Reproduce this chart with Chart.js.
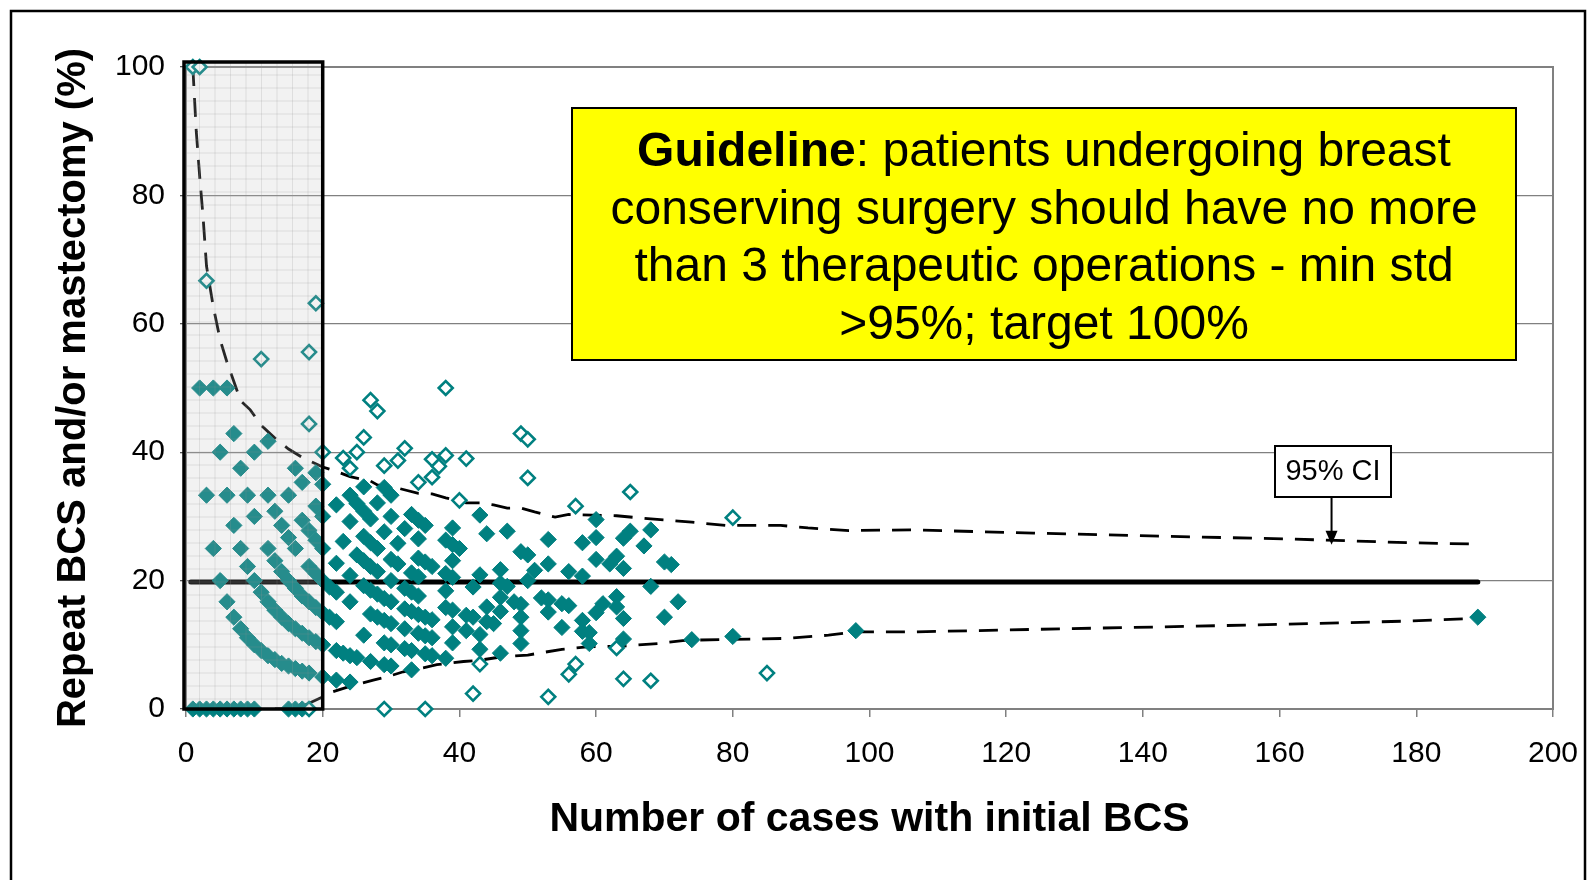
<!DOCTYPE html>
<html>
<head>
<meta charset="utf-8">
<script src="https://cdn.jsdelivr.net/npm/chart.js@4.4.1/dist/chart.umd.min.js"></script>
<style>
  html, body { margin: 0; padding: 0; background: #fff; }
  #wrap { width: 1590px; height: 880px; }
</style>
</head>
<body>
<div id="wrap"><canvas id="funnel"></canvas></div>
<script>
// axis ticks
const xTicks = [0, 20, 40, 60, 80, 100, 120, 140, 160, 180, 200];
const yTicks = [0, 20, 40, 60, 80, 100];

// units inside the 95% limits: [cases, % repeat]
const withinLimits = [
  [1,0],[2,0],[3,0],[4,0],[5,0],[6,0],[7,0],[8,0],[9,0],[10,0],[15,0],[16,0],[17,0],
  [2,50],[4,50],[6,50],[7,42.9],[12,41.7],[5,40],[10,40],
  [3,33.3],[6,33.3],[9,33.3],[12,33.3],[15,33.3],
  [8,37.5],[16,37.5],[19,36.8],[17,35.3],[20,35],[19,31.6],[13,30.8],[10,30],[17,29.4],[20,30],
  [7,28.6],[14,28.6],[18,27.8],[15,26.7],[19,26.3],[20,25],[4,25],[8,25],[12,25],[16,25],
  [13,23.1],[18,22.2],[9,22.2],[14,21.4],[19,21.1],[15,20],[5,20],[10,20],[20,20],
  [16,18.8],[17,17.6],[11,18.2],[6,16.7],[12,16.7],[18,16.7],[19,15.8],[20,15],
  [13,15.4],[14,14.3],[15,13.3],[16,12.5],[17,11.8],[18,11.1],[19,10.5],[20,10],
  [7,14.3],[8,12.5],[9,11.1],[10,10],[11,9.1],[12,8.3],[13,7.7],[14,7.1],[15,6.7],
  [16,6.3],[17,5.9],[18,5.6],[20,5],
  [26,34.6],[29,34.5],[30,33.3],[28,32.1],[24,33.3],[22,31.8],[25,32],
  [26,30.8],[27,29.6],[24,29.2],[30,30],[33,30.3],[34,29.4],[35,28.6],[32,28.1],[29,27.6],
  [39,28.2],[43,30.2],[44,27.3],[47,27.7],[49,24.5],
  [23,26.1],[25,24],[26,23.1],[27,22.2],[28,21.4],[26,26.9],[27,25.9],[28,25],[31,25.8],
  [30,23.3],[31,22.6],[34,26.5],[38,26.3],[39,25.6],[40,25],[34,23.5],[35,22.9],[36,22.2],[39,23.1],
  [22,22.7],[24,20.8],[30,20],[33,21.2],[34,20.6],[38,21.1],[39,20.5],[43,20.9],[46,21.7],
  [46,19.6],[47,19.1],[42,19],[21,19],
  [22,18.2],[24,16.7],[26,19.2],[27,18.5],[28,17.9],[29,17.2],[30,16.7],
  [32,18.8],[33,18.2],[34,17.6],[38,18.4],
  [32,15.6],[33,15.2],[34,14.7],[35,14.3],[36,13.9],[38,15.8],[39,15.4],
  [41,14.6],[42,14.3],[44,15.9],[46,15.2],[44,13.6],[45,13.3],[48,16.7],[49,14.3],
  [21,14.3],[22,13.6],[27,14.8],[28,14.3],[29,13.8],[30,13.3],
  [26,11.5],[29,10.3],[30,10],[32,12.5],[34,11.8],[35,11.4],[36,11.1],[39,12.8],[41,12.2],
  [43,11.6],[39,10.3],[43,9.3],
  [22,9.1],[23,8.7],[24,8.3],[25,8],[27,7.4],[29,6.9],[30,6.7],[32,9.4],[33,9.1],[35,8.6],
  [36,8.3],[38,7.9],[33,6.1],[46,8.7],[22,4.5],[24,4.2],
  [60,29.5],[53,26.4],[58,25.9],[60,26.7],[65,27.7],[64,26.6],[68,27.9],[67,25.4],
  [50,24],[53,22.6],[60,23.3],[63,23.8],[62,22.6],[64,21.9],[70,22.9],[71,22.5],
  [51,21.6],[50,20],[56,21.4],[58,20.7],[68,19.1],
  [46,17.4],[49,16.3],[52,17.3],[53,17],[55,16.4],[56,16.1],[61,16.4],[63,17.5],[63,15.9],[72,16.7],
  [53,15.1],[60,15],[64,14.1],[70,14.3],[55,12.7],[58,13.8],[58,12.1],[59,11.9],
  [49,12.2],[49,10.2],[59,10.2],[64,10.9],[74,10.8],
  [80,11.3],[98,12.2],[189,14.3]
];

// units outside the 95% limits
const outsideLimits = [
  [1,100],[2,100],[3,66.7],[19,63.2],[11,54.5],[18,55.6],[18,44.4],[20,40],[23,39.1],[18,0],
  [27,48.1],[28,46.4],[38,50],[26,42.3],[25,40],[24,37.5],[32,40.6],[31,38.7],[29,37.9],
  [36,38.9],[38,39.5],[37,37.8],[36,36.1],[34,35.3],[41,39],[40,32.5],[49,42.9],
  [29,0],[35,0],[43,7],[42,2.4],
  [50,42],[50,36],[65,33.8],[57,31.6],[63,9.5],[57,7],[56,5.4],[64,4.7],[68,4.4],[53,1.9],
  [80,29.8],[85,5.6]
];

// 95% control limits and overall rate
const upperLimit = [
  [1,100],[1.5,90],[2,83],[2.5,76.6],[3,69],[4,62.6],[5,57.5],[6,54],[7,51],[8,48],[9.4,46.6],
  [11,44.2],[13,42.2],[15,40.5],[17,39.2],[20,37.7],[22,37],[24,36.2],[27,35.5],[28,34.9],
  [31,34.4],[34,33.6],[36,33.5],[38,32.9],[41,32.1],[43,32.1],[45,31.8],[47,31.3],[49,31.3],
  [51,30.7],[54,29.9],[56,30.3],[63,30.1],[68,29.6],[74,29.1],[79,28.6],[87,28.6],[91,28.2],
  [97,27.8],[106,27.9],[124,27.4],[143,26.9],[161,26.5],[179,25.9],[188,25.7]
];
const lowerLimit = [
  [13,0],[15,0],[17,0.4],[20,1.9],[21.5,2.7],[24.5,3.7],[27.4,4.5],[29.4,5],[31.8,5.8],
  [34.7,6.4],[36.7,6.9],[40.6,7.4],[43,7.6],[46,8.1],[50,8.4],[55,9.3],[59,9.7],[64,9.8],
  [69,10.2],[73,10.7],[88,11],[94,11.5],[98,12],[106,12],[124,12.4],[143,12.8],[161,13.2],
  [179,13.7],[188,14.1]
];
const overallRate = [[0.7,19.8],[189,19.8]];

const guidelineText = [
  ['Guideline', ': patients undergoing breast'],
  ['', 'conserving surgery should have no more'],
  ['', 'than 3 therapeutic operations - min std'],
  ['', '>95%; target 100%']
];

const FONT = "'Liberation Sans', Arial, sans-serif";
const TEAL = '#008080';
const toXY = arr => arr.map(p => ({ x: p[0], y: p[1] }));

const framePlugin = {
  id: 'frames',
  beforeDraw(chart) {
    const ctx = chart.ctx;
    ctx.save();
    ctx.fillStyle = '#fff';
    ctx.fillRect(0, 0, chart.width, chart.height);
    ctx.strokeStyle = '#000';
    ctx.lineWidth = 2.5;
    ctx.strokeRect(11, 11, 1574, 900);
    ctx.restore();
  },
  beforeDatasetsDraw(chart) {
    const { ctx, chartArea: a } = chart;
    ctx.save();
    ctx.strokeStyle = '#808080';
    ctx.lineWidth = 2;
    ctx.strokeRect(a.left, a.top, a.right - a.left, a.bottom - a.top);
    ctx.restore();
  },
  afterDatasetsDraw(chart) {
    // shaded region for units with fewer than 20 cases
    const { ctx, chartArea: a } = chart;
    const x = chart.scales.x, y = chart.scales.y;
    const l = x.getPixelForValue(0) - 2, r = x.getPixelForValue(20);
    const t = a.top - 5, b = y.getPixelForValue(0);
    ctx.save();
    ctx.fillStyle = 'rgba(190,190,190,0.2)';
    ctx.fillRect(l, t, r - l, b - t);
    ctx.strokeStyle = 'rgba(150,150,150,0.22)';
    ctx.lineWidth = 1;
    ctx.beginPath();
    for (let gx = l + 15.5; gx < r; gx += 15.5) { ctx.moveTo(gx, t); ctx.lineTo(gx, b); }
    for (let gy = t + 13; gy < b; gy += 13) { ctx.moveTo(l, gy); ctx.lineTo(r, gy); }
    ctx.stroke();
    ctx.strokeStyle = '#000';
    ctx.lineWidth = 3.5;
    ctx.strokeRect(l, t, r - l, b - t);
    ctx.restore();
  },
  afterDraw(chart) {
    const ctx = chart.ctx;
    const x = chart.scales.x, y = chart.scales.y;
    ctx.save();
    // guideline box
    const bl = 572, bt = 108, bw = 944, bh = 252;
    ctx.fillStyle = '#ffff00';
    ctx.fillRect(bl, bt, bw, bh);
    ctx.strokeStyle = '#000';
    ctx.lineWidth = 2;
    ctx.strokeRect(bl, bt, bw, bh);
    ctx.fillStyle = '#000';
    ctx.textBaseline = 'middle';
    ctx.textAlign = 'left';
    const cx = bl + bw / 2;
    guidelineText.forEach((parts, i) => {
      const ly = 153 + i * 57.5;
      ctx.font = 'bold 48px ' + FONT;
      const w1 = ctx.measureText(parts[0]).width;
      ctx.font = '48px ' + FONT;
      const w2 = ctx.measureText(parts[1]).width;
      const sx = cx - (w1 + w2) / 2;
      ctx.font = 'bold 48px ' + FONT;
      ctx.fillText(parts[0], sx, ly);
      ctx.font = '48px ' + FONT;
      ctx.fillText(parts[1], sx + w1, ly);
    });
    // 95% CI label with arrow
    const ax = x.getPixelForValue(167.6);
    const tip = y.getPixelForValue(25.6);
    ctx.fillStyle = '#fff';
    ctx.fillRect(1275, 446, 116, 51);
    ctx.strokeStyle = '#000';
    ctx.lineWidth = 2;
    ctx.strokeRect(1275, 446, 116, 51);
    ctx.fillStyle = '#000';
    ctx.font = '29px ' + FONT;
    ctx.textAlign = 'center';
    ctx.fillText('95% CI', 1333, 472);
    ctx.beginPath();
    ctx.moveTo(ax, 497);
    ctx.lineTo(ax, tip - 12);
    ctx.stroke();
    ctx.beginPath();
    ctx.moveTo(ax - 6, tip - 14);
    ctx.lineTo(ax + 6, tip - 14);
    ctx.lineTo(ax, tip);
    ctx.closePath();
    ctx.fill();
    ctx.restore();
  }
};

new Chart(document.getElementById('funnel'), {
  type: 'scatter',
  data: {
    datasets: [
      {
        data: toXY(outsideLimits),
        pointStyle: 'rectRot',
        pointRadius: 7,
        backgroundColor: '#fff',
        borderColor: TEAL,
        borderWidth: 2.6,
        clip: false
      },
      {
        data: toXY(withinLimits),
        pointStyle: 'rectRot',
        pointRadius: 8.1,
        backgroundColor: TEAL,
        borderColor: TEAL,
        borderWidth: 1,
        clip: false
      },
      {
        data: toXY(overallRate),
        showLine: true,
        pointRadius: 0,
        borderColor: '#000',
        borderWidth: 5,
        borderCapStyle: 'round'
      },
      {
        data: toXY(upperLimit),
        showLine: true,
        pointRadius: 0,
        borderColor: '#000',
        borderWidth: 2.8,
        borderDash: [19, 12]
      },
      {
        data: toXY(lowerLimit),
        showLine: true,
        pointRadius: 0,
        borderColor: '#000',
        borderWidth: 2.8,
        borderDash: [19, 12]
      }
    ]
  },
  options: {
    responsive: true,
    maintainAspectRatio: false,
    animation: false,
    events: [],
    layout: { padding: { top: 67, right: 37, left: 0, bottom: 0 } },
    plugins: { legend: { display: false }, tooltip: { enabled: false } },
    scales: {
      x: {
        type: 'linear',
        min: 0,
        max: 200,
        afterBuildTicks: s => { s.ticks = xTicks.map(v => ({ value: v })); },
        afterFit: s => { s.height = 171; s.paddingRight = 0; s.paddingLeft = 0; },
        grid: { drawOnChartArea: false, tickLength: 8, tickColor: '#808080', lineWidth: 1.5 },
        border: { display: false },
        ticks: { color: '#000', font: { family: FONT, size: 30 }, padding: 19, maxRotation: 0 },
        title: {
          display: true,
          text: 'Number of cases with initial BCS',
          color: '#000',
          font: { family: FONT, size: 41, weight: 'bold', lineHeight: 1.2 },
          padding: { top: 0, bottom: 36 }
        }
      },
      y: {
        min: 0,
        max: 100,
        afterBuildTicks: s => { s.ticks = yTicks.map(v => ({ value: v })); },
        afterFit: s => { s.width = 186; },
        grid: { color: '#808080', lineWidth: 1.3, tickLength: 6, tickColor: '#555' },
        border: { display: false },
        ticks: { color: '#000', font: { family: FONT, size: 30 }, padding: 15 },
        title: {
          display: true,
          text: 'Repeat BCS and/or mastectomy (%)',
          color: '#000',
          font: { family: FONT, size: 40, weight: 'bold', lineHeight: 1.2 },
          padding: { top: 50, bottom: 0 }
        }
      }
    }
  },
  plugins: [framePlugin]
});
</script>
</body>
</html>
